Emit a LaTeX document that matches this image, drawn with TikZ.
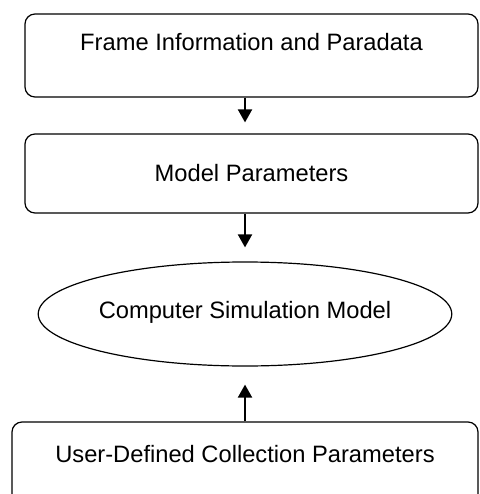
\documentclass[tikz,border=0pt]{standalone}
\usepackage{fontspec}
\setmainfont{Liberation Sans}
\usetikzlibrary{shapes.geometric, arrows.meta}

\tikzset{
    stagebox/.style={draw, line width=1.2pt, rounded corners=10pt, inner sep=0pt,
        font=\fontsize{23.7}{28}\selectfont},
    modelnode/.style={draw, ellipse, line width=1.2pt, inner sep=0pt,
        font=\fontsize{23.7}{28}\selectfont},
    flow/.style={line width=2pt, -{Triangle[width=14pt, length=13pt]}}
}

\begin{document}
\begin{tikzpicture}[x=1pt, y=-1pt]
    \useasboundingbox (0,0) rectangle (479,494);
    \clip (0,0) rectangle (479,494);

    % Draw the input boxes
    \node[stagebox, minimum width=453pt, minimum height=83pt, text height=17pt, text depth=26pt]
        (frame) at (251.5,55.5) {Frame Information and Paradata};
    \node[stagebox, minimum width=453pt, minimum height=79pt, text height=25pt, text depth=8pt]
        (params) at (251.5,173.5) {Model Parameters};
    \node[stagebox, minimum width=466pt, minimum height=83pt, text height=17pt, text depth=20pt]
        (user) at (245,463.5) {User-Defined Collection Parameters};

    % Draw the simulation model
    \node[modelnode, minimum width=408pt, minimum height=104pt, text height=17pt, text depth=9pt]
        (model) at (245,314) {Computer Simulation Model};

    % Connectors
    \draw[flow, shorten >=11pt] (frame.south -| model) -- (params.north -| model);
    \draw[flow, shorten >=14pt] (params.south -| model) -- (model.north);
    \draw[flow, shorten >=18pt] (user.north -| model) -- (model.south);
\end{tikzpicture}
\end{document}
